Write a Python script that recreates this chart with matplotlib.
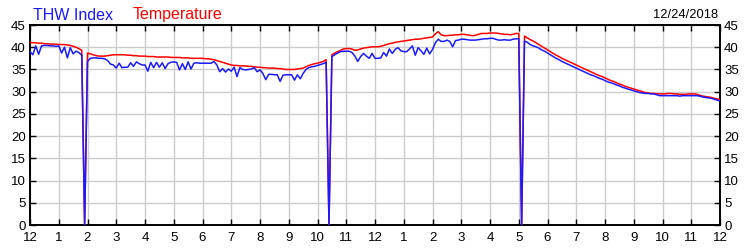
import numpy as np
import matplotlib
matplotlib.use("Agg")
import matplotlib.pyplot as plt

plt.rcParams["font.family"] = ["Liberation Sans", "DejaVu Sans"]

# readings every 0.1 h, one row per hour (midnight -> midnight)
temperature = [
    41.1, 41.0, 41.0, 40.9, 40.9, 40.8, 40.8, 40.7, 40.7, 40.7,   # 0
    40.6, 40.6, 40.6, 40.5, 40.4, 40.2, 40.0, 39.7, 39.3, 0.0,    # 1
    38.7, 38.5, 38.3, 38.1, 38.0, 38.0, 38.0, 38.1, 38.2, 38.3,   # 2
    38.3, 38.3, 38.3, 38.3, 38.2, 38.2, 38.1, 38.1, 38.0, 38.0,   # 3
    38.0, 37.9, 37.9, 37.9, 37.8, 37.8, 37.8, 37.8, 37.8, 37.7,   # 4
    37.7, 37.7, 37.7, 37.6, 37.6, 37.6, 37.5, 37.5, 37.5, 37.5,   # 5
    37.5, 37.4, 37.4, 37.3, 37.2, 37.0, 36.8, 36.6, 36.4, 36.2,   # 6
    36.0, 35.9, 35.9, 35.8, 35.8, 35.8, 35.7, 35.7, 35.6, 35.5,   # 7
    35.5, 35.4, 35.4, 35.3, 35.3, 35.3, 35.2, 35.2, 35.1, 35.0,   # 8
    35.0, 35.0, 35.0, 35.1, 35.2, 35.3, 35.6, 35.9, 36.1, 36.3,   # 9
    36.4, 36.6, 36.8, 37.2, 0.0, 38.3, 38.7, 39.0, 39.3, 39.6,    # 10
    39.7, 39.7, 39.6, 39.3, 39.4, 39.6, 39.8, 39.9, 40.0, 40.1,   # 11
    40.1, 40.1, 40.2, 40.4, 40.6, 40.8, 40.9, 41.1, 41.2, 41.3,   # 12
    41.4, 41.5, 41.6, 41.7, 41.8, 41.8, 41.9, 42.0, 42.1, 42.2,   # 13
    42.3, 43.0, 43.5, 42.8, 42.6, 42.6, 42.7, 42.7, 42.8, 42.8,   # 14
    42.9, 42.9, 42.8, 42.7, 42.6, 42.7, 42.9, 43.1, 43.1, 43.1,   # 15
    43.2, 43.2, 43.2, 43.1, 43.0, 42.9, 42.9, 42.8, 42.9, 43.1,   # 16
    43.1, 0.0, 42.5, 42.1, 41.7, 41.4, 41.0, 40.6, 40.2, 39.8,    # 17
    39.4, 39.0, 38.6, 38.2, 37.9, 37.5, 37.2, 36.9, 36.6, 36.3,   # 18
    36.0, 35.7, 35.4, 35.1, 34.8, 34.5, 34.2, 33.9, 33.6, 33.4,   # 19
    33.1, 32.8, 32.5, 32.3, 32.0, 31.7, 31.5, 31.2, 31.0, 30.8,   # 20
    30.6, 30.4, 30.2, 30.0, 29.8, 29.7, 29.6, 29.6, 29.5, 29.5,   # 21
    29.5, 29.5, 29.6, 29.6, 29.5, 29.5, 29.4, 29.4, 29.4, 29.5,   # 22
    29.5, 29.5, 29.4, 29.2, 29.0, 28.9, 28.8, 28.7, 28.5, 28.4,   # 23
    28.2,
]

thw_index = [
    39.0, 38.3, 40.3, 38.4, 40.3, 40.4, 40.4, 40.3, 40.3, 40.2,   # 0
    40.3, 38.7, 40.0, 37.6, 39.9, 38.5, 39.1, 38.8, 38.2, 0.0,    # 1
    36.8, 37.5, 37.6, 37.6, 37.5, 37.5, 37.4, 37.0, 36.2, 36.0,   # 2
    35.3, 36.4, 35.4, 35.5, 35.5, 36.5, 35.7, 36.7, 36.3, 36.0,   # 3
    36.0, 34.6, 36.6, 35.4, 36.6, 35.5, 36.5, 35.2, 36.3, 36.6,   # 4
    36.7, 36.6, 34.9, 36.3, 35.0, 36.7, 35.1, 36.4, 36.5, 36.4,   # 5
    36.4, 36.4, 36.4, 36.4, 36.8, 36.0, 34.5, 35.2, 34.4, 35.1,   # 6
    34.6, 35.5, 33.4, 35.4, 35.0, 34.9, 35.0, 35.1, 35.4, 34.5,   # 7
    34.9, 34.1, 32.7, 33.9, 33.9, 33.8, 33.8, 32.3, 33.7, 33.8,   # 8
    33.8, 33.8, 32.6, 33.8, 32.9, 34.1, 35.0, 35.4, 35.6, 35.7,   # 9
    35.9, 36.1, 36.3, 36.6, 0.0, 37.9, 38.3, 38.7, 39.0, 39.1,    # 10
    39.1, 39.1, 38.8, 38.0, 36.8, 37.9, 38.6, 38.0, 37.5, 38.6,   # 11
    37.5, 37.5, 37.6, 38.8, 38.0, 39.6, 38.6, 39.5, 39.9, 39.2,   # 12
    39.0, 39.0, 39.6, 40.3, 38.2, 39.9, 39.2, 38.4, 39.8, 38.5,   # 13
    39.5, 41.0, 41.8, 41.3, 41.3, 41.6, 41.3, 40.1, 41.5, 41.6,   # 14
    41.8, 41.8, 41.7, 41.6, 41.6, 41.6, 41.7, 41.8, 41.9, 41.9,   # 15
    42.0, 42.0, 41.8, 41.6, 41.6, 41.7, 41.6, 41.6, 41.8, 41.9,   # 16
    41.9, 0.0, 41.4, 41.1, 40.6, 40.3, 40.1, 39.8, 39.4, 39.1,    # 17
    38.7, 38.3, 37.9, 37.5, 37.2, 36.8, 36.5, 36.2, 35.9, 35.6,   # 18
    35.3, 35.0, 34.7, 34.4, 34.1, 33.8, 33.6, 33.3, 33.0, 32.8,   # 19
    32.5, 32.2, 32.0, 31.8, 31.5, 31.3, 31.0, 30.8, 30.6, 30.4,   # 20
    30.2, 30.0, 29.8, 29.7, 29.6, 29.6, 29.5, 29.5, 29.3, 29.1,   # 21
    29.1, 29.1, 29.1, 29.1, 29.1, 29.1, 29.0, 29.1, 29.1, 29.1,   # 22
    29.1, 29.1, 29.1, 29.0, 28.8, 28.7, 28.6, 28.5, 28.3, 28.1,   # 23
    27.9,
]

hour_labels = ["12", "1", "2", "3", "4", "5", "6", "7", "8", "9", "10", "11",
               "12", "1", "2", "3", "4", "5", "6", "7", "8", "9", "10", "11", "12"]
y_ticks = [0, 5, 10, 15, 20, 25, 30, 35, 40, 45]
date_text = "12/24/2018"

hours = np.linspace(0, 24, len(temperature))

fig = plt.figure(figsize=(7.5, 2.5), dpi=100)
ax = fig.add_axes([0.04, 0.10, 0.92, 0.80])

ax.plot(hours, temperature, color="#ff0000", linewidth=1.1, zorder=3)
ax.plot(hours, thw_index, color="#1a1aff", linewidth=1.1, zorder=4)

ax.set_xlim(0, 24)
ax.set_ylim(0, 45)
ax.set_xticks(range(25))
ax.set_xticklabels(hour_labels)
ax.set_yticks(y_ticks)
ax.grid(True, color="#cccccc", linewidth=1.0, zorder=0)
ax.set_axisbelow(True)

ax.tick_params(axis="both", direction="in", length=4, width=1, labelsize=9.5,
               colors="black")
ax.tick_params(axis="x", pad=5)
ax.tick_params(axis="y", pad=3)
ax.tick_params(top=True, right=True, labelright=True)
for s in ax.spines.values():
    s.set_color("black")
    s.set_linewidth(1.4)

fig.text(0.044, 0.97, "THW Index", color="#1a1aff", fontsize=11.5, va="top", ha="left")
fig.text(0.177, 0.97, "Temperature", color="#ff0000", fontsize=11.5, va="top", ha="left")
fig.text(0.958, 0.962, date_text, color="black", fontsize=9.3, va="top", ha="right")

fig.savefig("out.png", dpi=100)
